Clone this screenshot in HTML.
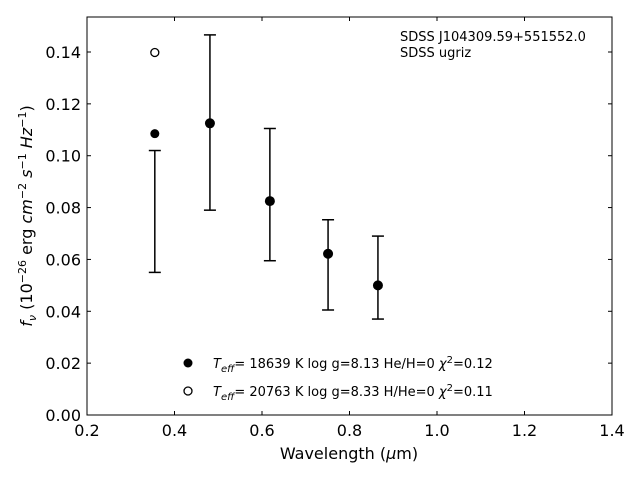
<!DOCTYPE html>
<html><head><meta charset="utf-8"><style>
body{margin:0;background:#fff;}
svg{display:block;font-family:"DejaVu Sans","Liberation Sans",sans-serif;}
</style></head><body>
<svg id="chart" width="640" height="480" viewBox="0 0 640 480" xmlns="http://www.w3.org/2000/svg">
<rect x="87" y="17" width="525" height="398" fill="none" stroke="#000" stroke-width="1"/>
<g id="ticks"></g>
<g id="marks"></g>
<text x="400" y="41" font-size="13">SDSS J104309.59+551552.0</text>
<text x="400" y="57" font-size="13">SDSS ugriz</text>
<text x="349" y="459" font-size="16" text-anchor="middle">Wavelength (<tspan font-style="italic">μ</tspan>m)</text>
<text transform="translate(32,216) rotate(-90)" font-size="16" text-anchor="middle"><tspan font-style="italic">f</tspan><tspan font-style="italic" font-size="11" dy="4">ν</tspan><tspan dy="-4"> (10</tspan><tspan font-size="11" dy="-6">−26</tspan><tspan dy="6"> erg </tspan><tspan font-style="italic">cm</tspan><tspan font-size="11" dy="-6">−2</tspan><tspan dy="6" font-style="italic"> s</tspan><tspan font-size="11" dy="-6">−1</tspan><tspan dy="6" font-style="italic"> Hz</tspan><tspan font-size="11" dy="-6">−1</tspan><tspan dy="6">)</tspan></text>
<g>
<circle cx="188" cy="363" r="4.5" fill="#000"/>
<text x="213" y="368" font-size="13"><tspan font-style="italic">T</tspan><tspan font-style="italic" font-size="10" dy="4">eff</tspan><tspan dy="-4">= 18639 K  log g=8.13  He/H=0  </tspan><tspan font-style="italic">χ</tspan><tspan font-size="10" dy="-5">2</tspan><tspan dy="5">=0.12</tspan></text>
<circle cx="188" cy="391" r="4" fill="#fff" stroke="#000" stroke-width="1.3"/>
<text x="213" y="396" font-size="13"><tspan font-style="italic">T</tspan><tspan font-style="italic" font-size="10" dy="4">eff</tspan><tspan dy="-4">= 20763 K  log g=8.33  H/He=0  </tspan><tspan font-style="italic">χ</tspan><tspan font-size="10" dy="-5">2</tspan><tspan dy="5">=0.11</tspan></text>
</g>
</svg>
<script>
const wavelengths=[0.355,0.481,0.618,0.751,0.865];
const obsFlux=[0.0785,0.1128,0.0850,0.0579,0.0530];
const obsErr=[0.0235,0.0338,0.0255,0.0174,0.0160];
const modelFilled=[0.1085,0.1125,0.0825,0.0622,0.0500];
const modelOpenX=[0.355];
const modelOpen=[0.1398];
const xTicks=[0.2,0.4,0.6,0.8,1.0,1.2,1.4];
const yTicks=[0,0.02,0.04,0.06,0.08,0.10,0.12,0.14];
const X0=87,X1=612,Y0=415,Y1=17;
function sx(v){return X0+(v-0.2)/1.2*(X1-X0);}
function sy(v){return Y0-v/0.1535*(Y0-Y1);}
const NS="http://www.w3.org/2000/svg";
function mk(tag,attrs,parent){const e=document.createElementNS(NS,tag);for(const k in attrs)e.setAttribute(k,attrs[k]);parent.appendChild(e);return e;}
const tg=document.getElementById('ticks'),mg=document.getElementById('marks');
xTicks.forEach(t=>{const x=sx(t);
 const a=mk('line',{x1:x,x2:x,y1:Y0,y2:Y0-4,stroke:'#000'},tg);
 
 
 const b=mk('line',{x1:x,x2:x,y1:Y1,y2:Y1+4,stroke:'#000'},tg);
 
 
 const l=mk('text',{x:x,y:Y0+21,'font-size':16,'text-anchor':'middle'},tg);
 l.textContent=t.toFixed(1);
 
 
});
yTicks.forEach(t=>{const y=sy(t);
 const a=mk('line',{x1:X0,x2:X0+4,y1:y,y2:y,stroke:'#000'},tg);
 
 
 const b=mk('line',{x1:X1,x2:X1-4,y1:y,y2:y,stroke:'#000'},tg);
 
 
 const l=mk('text',{x:X0-6,y:y+6,'font-size':16,'text-anchor':'end'},tg);
 l.textContent=t.toFixed(2);
 
 
});
wavelengths.forEach((w,i)=>{const x=sx(w),yt=sy(obsFlux[i]+obsErr[i]),yb=sy(obsFlux[i]-obsErr[i]);
 const g=mk('g',{stroke:'#000','stroke-width':1.5},mg);
 
 
 mk('line',{x1:x,x2:x,y1:yt,y2:yb},g);
 mk('line',{x1:x-6,x2:x+6,y1:yt,y2:yt},g);
 mk('line',{x1:x-6,x2:x+6,y1:yb,y2:yb},g);
});
wavelengths.forEach((w,i)=>{
 const c=mk('circle',{cx:sx(w),cy:sy(modelFilled[i]),r:i==0?4.5:5,fill:'#000'},mg);
 
 
});
modelOpenX.forEach((w,i)=>{
 const c=mk('circle',{cx:sx(w),cy:sy(modelOpen[i]),r:4,fill:'#fff',stroke:'#000','stroke-width':1.3},mg);
 
 
});
</script>
</body></html>
